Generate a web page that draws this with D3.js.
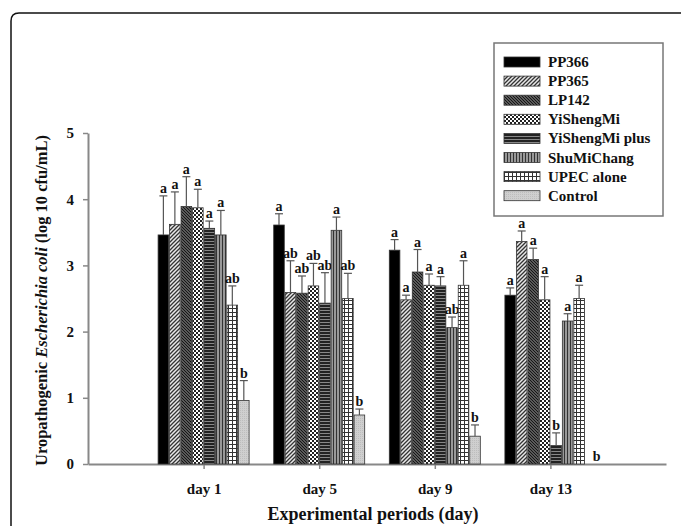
<!DOCTYPE html>
<html><head><meta charset="utf-8">
<script src="https://cdn.jsdelivr.net/npm/d3@7"></script>
<style>body{margin:0;background:#fff;}svg{display:block;}</style>
</head><body>
<script>
const days = ["day 1", "day 5", "day 9", "day 13"];
const series = ["PP366", "PP365", "LP142", "YiShengMi", "YiShengMi plus", "ShuMiChang", "UPEC alone", "Control"];
const PP366 = [3.46, 3.61, 3.23, 2.55];
const PP365 = [3.62, 2.59, 2.48, 3.36];
const LP142 = [3.89, 2.58, 2.90, 3.09];
const YiShengMi = [3.87, 2.69, 2.70, 2.48];
const YiShengMiPlus = [3.56, 2.43, 2.69, 0.28];
const ShuMiChang = [3.46, 3.53, 2.06, 2.16];
const UPECalone = [2.40, 2.50, 2.70, 2.50];
const Control = [0.96, 0.74, 0.42, 0.0];
const errPP366 = [0.59, 0.17, 0.16, 0.11];
const errPP365 = [0.49, 0.48, 0.07, 0.16];
const errLP142 = [0.45, 0.26, 0.34, 0.17];
const errYiShengMi = [0.28, 0.34, 0.17, 0.35];
const errYiShengMiPlus = [0.11, 0.46, 0.14, 0.19];
const errShuMiChang = [0.37, 0.20, 0.16, 0.11];
const errUPECalone = [0.29, 0.38, 0.37, 0.20];
const errControl = [0.30, 0.09, 0.17, 0];
const letPP366 = ["a", "a", "a", "a"];
const letPP365 = ["a", "ab", "a", "a"];
const letLP142 = ["a", "ab", "a", "a"];
const letYiShengMi = ["a", "ab", "a", "a"];
const letYiShengMiPlus = ["a", "ab", "a", "b"];
const letShuMiChang = ["a", "a", "ab", "a"];
const letUPECalone = ["ab", "ab", "a", "a"];
const letControl = ["b", "b", "b", "b"];
const yTicks = [0, 1, 2, 3, 4, 5];

const values = [PP366, PP365, LP142, YiShengMi, YiShengMiPlus, ShuMiChang, UPECalone, Control];
const errs = [errPP366, errPP365, errLP142, errYiShengMi, errYiShengMiPlus, errShuMiChang, errUPECalone, errControl];
const lets = [letPP366, letPP365, letLP142, letYiShengMi, letYiShengMiPlus, letShuMiChang, letUPECalone, letControl];

const W = 681, H = 526;
const svg = d3.select("body").append("svg").attr("width", W).attr("height", H);
const FONT = "'Liberation Serif','Times New Roman',serif";

// patterns
const defs = svg.append("defs");
function pat(id, w, h, bg, draw) {
  const p = defs.append("pattern").attr("id", id).attr("patternUnits", "userSpaceOnUse")
    .attr("width", w).attr("height", h);
  p.append("rect").attr("width", w).attr("height", h).attr("fill", bg);
  draw(p);
}
pat("p0", 4, 4, "#000", p => {});
pat("p1", 4, 4, "#e8e8e8", p => {
  p.append("path").attr("d", "M-1,1 L1,-1 M0,4 L4,0 M3,5 L5,3").attr("stroke", "#333").attr("stroke-width", 1.3);
});
pat("p2", 3, 3, "#777", p => {
  p.append("path").attr("d", "M-1,-1 L4,4 M-1,2 L1,4 M2,-1 L4,1").attr("stroke", "#111").attr("stroke-width", 1.1);
});
pat("p3", 4, 4, "#fff", p => {
  p.append("rect").attr("x", 0).attr("y", 0).attr("width", 2).attr("height", 2).attr("fill", "#222");
  p.append("rect").attr("x", 2).attr("y", 2).attr("width", 2).attr("height", 2).attr("fill", "#222");
});
pat("p4", 3, 3, "#222", p => {
  p.append("rect").attr("x", 0).attr("y", 1).attr("width", 3).attr("height", 1).attr("fill", "#888");
});
pat("p5", 3, 3, "#999", p => {
  p.append("rect").attr("x", 0).attr("y", 0).attr("width", 1).attr("height", 3).attr("fill", "#333");
});
pat("p6", 4, 4, "#fff", p => {
  p.append("rect").attr("x", 0).attr("y", 0).attr("width", 4).attr("height", 1).attr("fill", "#333");
  p.append("rect").attr("x", 0).attr("y", 0).attr("width", 1).attr("height", 4).attr("fill", "#333");
});
pat("p7", 2, 2, "#cfcfcf", p => {
  p.append("rect").attr("x", 0).attr("y", 0).attr("width", 1).attr("height", 1).attr("fill", "#bdbdbd");
});

// outer frame
svg.append("path").attr("d", "M11,540 L11,21 Q11,13 19,13 L700,13")
  .attr("fill", "none").attr("stroke", "#111").attr("stroke-width", 1.5);

const x0 = 88, x1 = 666, yTop = 133, yBot = 464;
const x = d3.scalePoint().domain(days).range([x0, x1]).padding(1);
const y = d3.scaleLinear().domain([0, 5]).range([yBot, yTop]);
const groupW = 91;
const xs = d3.scaleBand().domain(series).range([-groupW / 2, groupW / 2]).paddingInner(0.08);

// axes
const gy = svg.append("g").attr("transform", `translate(${x0},0)`)
  .call(d3.axisLeft(y).tickValues(yTicks).tickFormat(d3.format("d")).tickSize(5).tickSizeOuter(0));
gy.select(".domain").attr("stroke", "#888").attr("stroke-width", 2);
gy.selectAll(".tick line").attr("stroke", "#888").attr("stroke-width", 1.5);
gy.selectAll(".tick text").attr("font-family", FONT).attr("font-weight", "bold").attr("font-size", 15).attr("fill", "#111").attr("x", -14);

const gx = svg.append("g").attr("transform", `translate(0,${yBot})`)
  .call(d3.axisBottom(x).tickSize(5).tickSizeOuter(0));
gx.select(".domain").attr("stroke", "#888").attr("stroke-width", 2);
gx.selectAll(".tick line").attr("stroke", "#888").attr("stroke-width", 1.5);
gx.selectAll(".tick text").attr("font-family", FONT).attr("font-weight", "bold").attr("font-size", 15).attr("fill", "#111").attr("dy", "1.45em");

// bars
series.forEach((s, si) => {
  days.forEach((d, di) => {
    const v = values[si][di], e = errs[si][di];
    const bx = x(d) + xs(s), bw = xs.bandwidth();
    if (v > 0) {
      svg.append("rect").attr("x", bx).attr("y", y(v)).attr("width", bw).attr("height", y(0) - y(v))
        .attr("fill", `url(#p${si})`).attr("stroke", "#333").attr("stroke-width", 0.8);
    }
    const cx = bx + bw / 2;
    if (e > 0) {
      svg.append("line").attr("x1", cx).attr("x2", cx).attr("y1", y(v)).attr("y2", y(v + e))
        .attr("stroke", "#555").attr("stroke-width", 1.2);
      svg.append("line").attr("x1", cx - 4).attr("x2", cx + 4).attr("y1", y(v + e)).attr("y2", y(v + e))
        .attr("stroke", "#555").attr("stroke-width", 1.2);
    }
    const ly = v > 0 ? y(v + e) - 3 : y(0) - 3;
    const lx = v > 0 ? cx : cx + 6;
    svg.append("text").attr("x", lx).attr("y", ly).attr("text-anchor", "middle")
      .attr("font-family", FONT).attr("font-weight", "bold").attr("font-size", 14).attr("fill", "#111")
      .text(lets[si][di]);
  });
});

// axis titles
const yt = svg.append("text").attr("transform", `translate(47,${(yTop + yBot) / 2 + 2}) rotate(-90)`)
  .attr("text-anchor", "middle").attr("font-family", FONT).attr("font-weight", "bold").attr("font-size", 16.5).attr("fill", "#111");
yt.append("tspan").text("Uropathogenic ");
yt.append("tspan").attr("font-style", "italic").text("Escherichia coli");
yt.append("tspan").text("  (log 10 cfu/mL)");

svg.append("text").attr("x", (x0 + x1) / 2 - 4).attr("y", 520).attr("text-anchor", "middle")
  .attr("font-family", FONT).attr("font-weight", "bold").attr("font-size", 18).attr("fill", "#111")
  .text("Experimental periods (day)");

// legend
const lg = svg.append("g");
lg.append("rect").attr("x", 494).attr("y", 43).attr("width", 169).attr("height", 173)
  .attr("fill", "#fff").attr("stroke", "#777").attr("stroke-width", 1.5);
series.forEach((s, i) => {
  const ly = 62 + i * 19.1;
  lg.append("rect").attr("x", 504).attr("y", ly - 5).attr("width", 36).attr("height", 10)
    .attr("fill", `url(#p${i})`).attr("stroke", "#333").attr("stroke-width", 0.8);
  lg.append("text").attr("x", 548).attr("y", ly + 5).attr("font-family", FONT).attr("font-weight", "bold")
    .attr("font-size", 15).attr("fill", "#111").text(s);
});
</script>
</body></html>
